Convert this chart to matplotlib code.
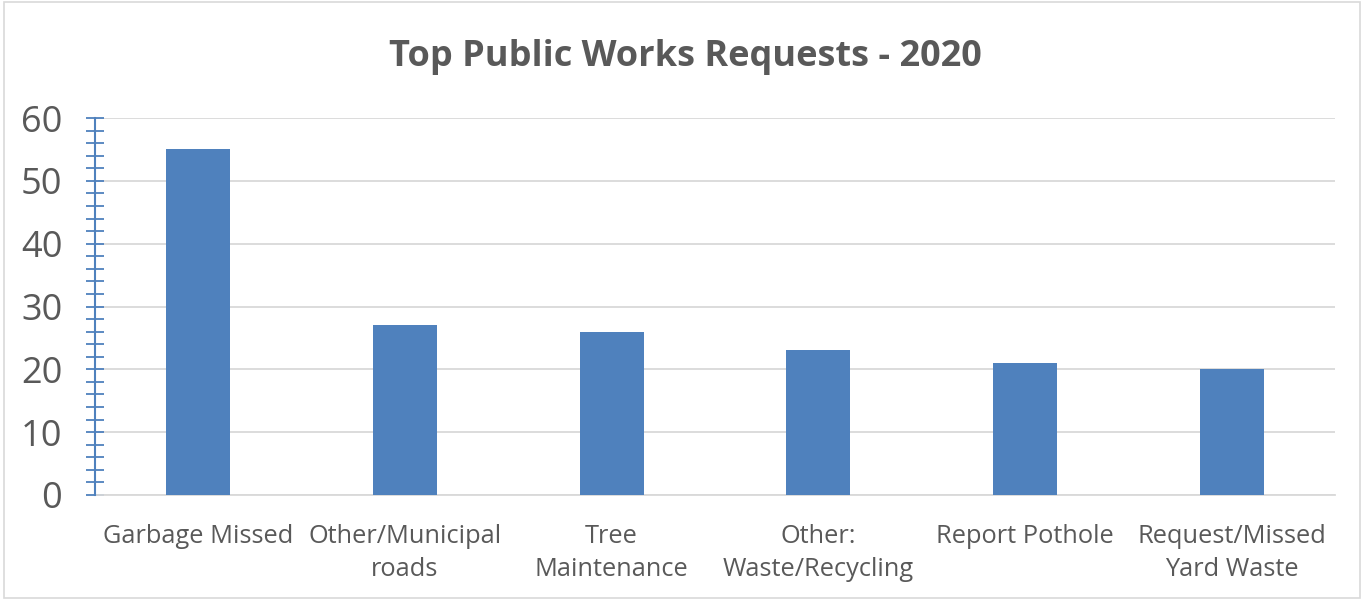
import matplotlib
matplotlib.use("Agg")
import matplotlib.pyplot as plt
from matplotlib.patches import Rectangle
from matplotlib.ticker import MultipleLocator

categories = ["Garbage Missed", "Other/Municipal\nroads", "Tree\nMaintenance",
              "Other:\nWaste/Recycling", "Report Pothole", "Request/Missed\nYard Waste"]
values = [55, 27, 26, 23, 21, 20]
yticks = [0, 10, 20, 30, 40, 50, 60]

plt.rcParams['font.family'] = ['Open Sans', 'DejaVu Sans']
text_color = "#595959"
bar_color = "#4f81bd"

fig = plt.figure(figsize=(13.65, 5.99), dpi=100)
ax = fig.add_axes([95/1365, 1-495/599, (1335-95)/1365, (495-118)/599])

x = list(range(len(categories)))
ax.bar(x, values, width=0.31, color=bar_color, zorder=3)
ax.set_xlim(-0.5, len(categories) - 0.5)
ax.set_ylim(0, 60)
ax.set_yticks(yticks)
ax.yaxis.set_minor_locator(MultipleLocator(2))
ax.set_xticks(x)
ax.set_xticklabels(categories, fontsize=18.3, color=text_color, linespacing=1.42)
ax.tick_params(axis='x', length=0, pad=21)
ax.tick_params(axis='y', which='both', direction='inout', length=13, width=1.3,
               color=bar_color, labelsize=26, labelcolor=text_color, pad=17)
ax.grid(axis='y', color="#d9d9d9", linewidth=1.3, zorder=0)
for s in ['top', 'right']:
    ax.spines[s].set_visible(False)
ax.spines['left'].set_color(bar_color)
ax.spines['left'].set_linewidth(1.5)
ax.spines['left'].set_zorder(4)
ax.spines['bottom'].set_color("#d9d9d9")
ax.spines['bottom'].set_linewidth(1.3)

fig.text(685/1365, 1-57/599, "Top Public Works Requests - 2020", ha='center', va='center',
         fontsize=26, fontweight='bold', color=text_color)

fig.patches.append(Rectangle((4/1365, 1/599), 1356/1365, 596/599, transform=fig.transFigure,
                             fill=False, edgecolor="#d9d9d9", linewidth=1.2))

fig.savefig("out.png", dpi=100)
